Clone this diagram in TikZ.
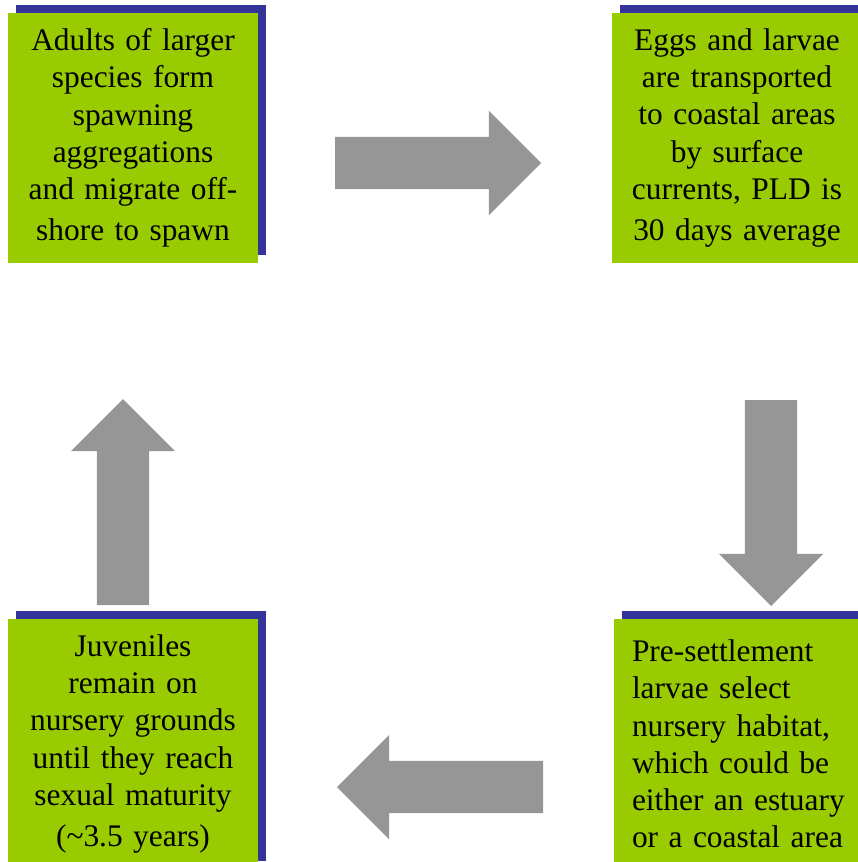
\documentclass[tikz,border=0pt]{standalone}
\usepackage{fontspec}
\setmainfont{Liberation Serif}
\usetikzlibrary{shapes.arrows,shadows}
\definecolor{boxgreen}{RGB}{153,204,0}
\definecolor{shadowblue}{RGB}{51,51,153}
\definecolor{arrowgray}{RGB}{150,150,150}
\begin{document}
\begin{tikzpicture}[x=1pt, y=-1pt, node distance=604pt,
    stage/.style={rectangle, fill=boxgreen, minimum width=250pt, minimum height=250pt,
        inner sep=0pt, text width=214pt, align=center,
        font=\fontsize{31.4}{37.2}\selectfont,
        general shadow={fill=shadowblue, shadow xshift=8pt, shadow yshift=8pt}},
    bigarrow/.style={single arrow, fill=arrowgray, inner sep=26pt, outer sep=0pt,
        minimum height=206pt, minimum width=104pt, single arrow head extend=26pt,
        anchor=tail}]
    \useasboundingbox (0,0) rectangle (857,862);

    % Nodes
    \node [stage] (adults) at (133,138) {Adults of larger\\ species form\\ spawning\\ aggregations\\ and migrate off-\\[4pt] shore to spawn};
    \node [stage, right of=adults] (eggs) {Eggs and larvae\\ are transported\\ to coastal areas\\ by surface\\ currents, PLD is\\[4pt] 30 days average};
    \node [stage, below of=adults, node distance=606pt] (juveniles) {Juveniles\\ remain on\\ nursery grounds\\ until they reach\\ sexual maturity\\[4pt] (\textasciitilde3.5 years)};
    \node [stage, below of=eggs, node distance=606pt, xshift=2pt, align=left] (settlement) {Pre-settlement\\ larvae select\\ nursery habitat,\\ which could be\\ either an estuary\\ or a coastal area};

    % Arrows
    \node [bigarrow] (toeggs) at (335,163) {};
    \node [bigarrow, shape border rotate=270] (tosettlement) at (771,400) {};
    \node [bigarrow, shape border rotate=180] (tojuveniles) at (543,787) {};
    \node [bigarrow, shape border rotate=90] (toadults) at (123,605) {};
\end{tikzpicture}
\end{document}
